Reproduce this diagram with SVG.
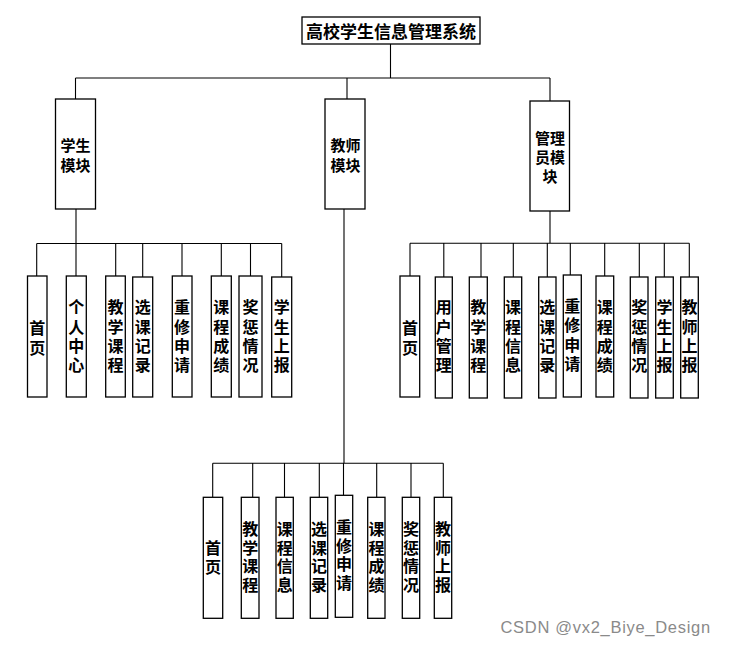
<svg xmlns="http://www.w3.org/2000/svg" width="731" height="646" viewBox="0 0 731 646">
<style>
.box{fill:#fff;stroke:#000;stroke-width:1.3}
.ln{fill:none;stroke:#000;stroke-width:1.1}
text{font-family:"Noto Sans CJK SC","Noto Sans",sans-serif;fill:#000;text-anchor:middle;dominant-baseline:central}
.t{font-size:16px;font-weight:bold;writing-mode:vertical-rl;letter-spacing:3.3px}
.b{font-size:16px;font-weight:bold;writing-mode:vertical-rl;letter-spacing:2.7px}
.m{font-size:15px;font-weight:bold}
.title{font-size:17px;font-weight:bold}
.wm{font-family:"Liberation Sans",Arial,sans-serif;font-size:16.5px;letter-spacing:0.7px;fill:#8a8a8a;text-anchor:start;dominant-baseline:auto;writing-mode:horizontal-tb}
</style>
<rect width="731" height="646" fill="#fff"/>
<g id="connectors" class="ln">
<path d="M390.5 44V78M75.5 78H550M75.5 78V99M347 78V99M550 78V101"/>
<path d="M76 209V243.5M36.7 243.5H281.7M36.7 243.5V276M76 243.5V276M115.7 243.5V276M142.7 243.5V277M182 243.5V276M221.3 243.5V276M250.5 243.5V276M281.7 243.5V277"/>
<path d="M550 211V243.3M410 243.3H689.3M410 243.3V276M443.8 243.3V277M481 243.3V277M513.3 243.3V277M547.3 243.3V277M570.3 243.3V275M604.7 243.3V276M639.3 243.3V277M664.3 243.3V277M689.3 243.3V277"/>
<path d="M344 209V463.3M212.7 463.3H443.3M212.7 463.3V497.3M252.7 463.3V497.3M284.5 463.3V497.3M319.3 463.3V497.3M343.5 463.3V495.3M376.7 463.3V497.3M411 463.3V497.3M443.3 463.3V497.3"/>
</g>
<g id="root"><rect class="box" x="302" y="17" width="178" height="27"/><text class="title" x="391" y="30.5">高校学生信息管理系统</text></g>
<g id="student"><rect class="box" x="55.5" y="99" width="40" height="110"/><text class="m"><tspan x="75.5" y="144.2">学生</tspan><tspan x="75.5" y="163.6">模块</tspan></text></g>
<g id="teacher"><rect class="box" x="325" y="99" width="40" height="110"/><text class="m"><tspan x="345.5" y="144.2">教师</tspan><tspan x="345.5" y="163.6">模块</tspan></text></g>
<g id="admin"><rect class="box" x="530" y="101" width="39.5" height="110"/><text class="m"><tspan x="550" y="137">管理</tspan><tspan x="550" y="156">员模</tspan><tspan x="550" y="175">块</tspan></text></g>

<g id="s1"><rect class="box" x="27.5" y="276" width="19.5" height="121"/><text class="t" x="37.2" y="339.5">首页</text></g>
<g id="s2"><rect class="box" x="66.3" y="276" width="20" height="121"/><text class="t" x="76.3" y="338">个人中心</text></g>
<g id="s3"><rect class="box" x="105.7" y="276" width="19.6" height="121"/><text class="t" x="115.5" y="338">教学课程</text></g>
<g id="s4"><rect class="box" x="132.7" y="277" width="20" height="120"/><text class="t" x="142.7" y="338">选课记录</text></g>
<g id="s5"><rect class="box" x="172.3" y="276" width="19.7" height="121"/><text class="t" x="182.1" y="338">重修申请</text></g>
<g id="s6"><rect class="box" x="211.3" y="276" width="20" height="121"/><text class="t" x="221.3" y="338">课程成绩</text></g>
<g id="s7"><rect class="box" x="239" y="276" width="23" height="121"/><text class="t" x="250.5" y="338">奖惩情况</text></g>
<g id="s8"><rect class="box" x="271.7" y="277" width="20" height="120"/><text class="t" x="281.7" y="338">学生上报</text></g>

<g id="a1"><rect class="box" x="400" y="276" width="19.7" height="121"/><text class="t" x="409.9" y="339.5">首页</text></g>
<g id="a2"><rect class="box" x="435.3" y="277" width="17" height="121"/><text class="t" x="443.8" y="338">用户管理</text></g>
<g id="a3"><rect class="box" x="469.3" y="277" width="18" height="121"/><text class="t" x="478.3" y="338">教学课程</text></g>
<g id="a4"><rect class="box" x="504.3" y="277" width="17.4" height="121"/><text class="t" x="513" y="338">课程信息</text></g>
<g id="a5"><rect class="box" x="538.7" y="277" width="17.3" height="121"/><text class="t" x="547.3" y="338">选课记录</text></g>
<g id="a6"><rect class="box" x="563.3" y="275" width="18" height="122"/><text class="t" x="572.3" y="336.5">重修申请</text></g>
<g id="a7"><rect class="box" x="596" y="276" width="17.7" height="121"/><text class="t" x="604.8" y="338">课程成绩</text></g>
<g id="a8"><rect class="box" x="630.3" y="277" width="17.7" height="121"/><text class="t" x="639.2" y="338">奖惩情况</text></g>
<g id="a9"><rect class="box" x="655.7" y="277" width="17.6" height="121"/><text class="t" x="664.5" y="338">学生上报</text></g>
<g id="a10"><rect class="box" x="680.7" y="277" width="17.6" height="121"/><text class="t" x="689.5" y="338">教师上报</text></g>

<g id="t1"><rect class="box" x="203.3" y="497.3" width="19.4" height="121"/><text class="b" x="213" y="558.7">首页</text></g>
<g id="t2"><rect class="box" x="241.3" y="497.3" width="17.7" height="121"/><text class="b" x="250.2" y="558.4">教学课程</text></g>
<g id="t3"><rect class="box" x="276" y="497.3" width="17.3" height="121"/><text class="b" x="284.7" y="558.4">课程信息</text></g>
<g id="t4"><rect class="box" x="310.3" y="497.3" width="17.4" height="121"/><text class="b" x="319" y="558.4">选课记录</text></g>
<g id="t5"><rect class="box" x="335.3" y="495.3" width="17.4" height="122"/><text class="b" x="344" y="556.4">重修申请</text></g>
<g id="t6"><rect class="box" x="367.7" y="497.3" width="17.3" height="121"/><text class="b" x="376.4" y="558.4">课程成绩</text></g>
<g id="t7"><rect class="box" x="402.3" y="497.3" width="17.4" height="121"/><text class="b" x="411" y="558.4">奖惩情况</text></g>
<g id="t8"><rect class="box" x="434.3" y="497.3" width="17.4" height="121"/><text class="b" x="443" y="558.4">教师上报</text></g>

<text class="wm" x="500.5" y="633">CSDN @vx2_Biye_Design</text>
</svg>
